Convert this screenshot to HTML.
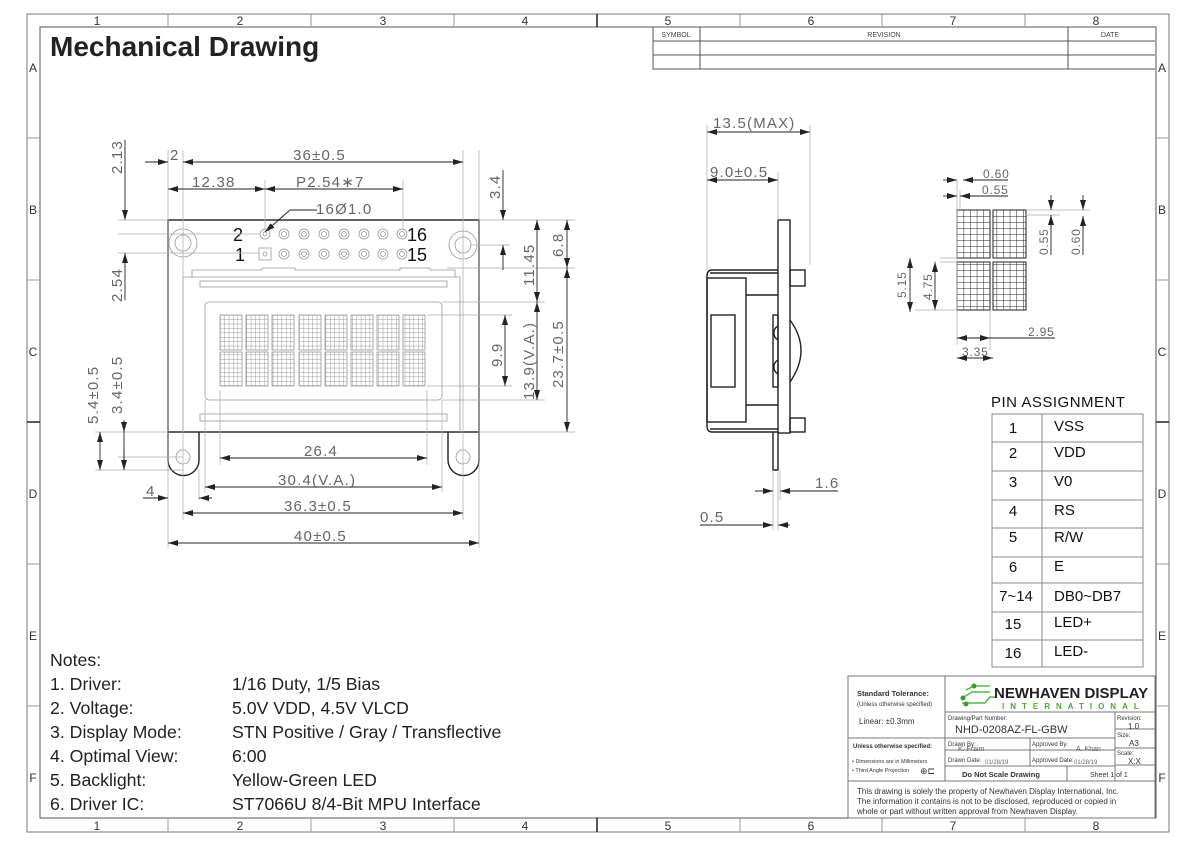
<!DOCTYPE html>
<html><head><meta charset="utf-8"><style>
html,body{margin:0;padding:0;background:#fff;}
svg{display:block;font-family:"Liberation Sans",sans-serif;}
.t{stroke:#444;stroke-width:1;fill:none}
.g{stroke:#999;stroke-width:0.8;fill:none}
.k{stroke:#222;stroke-width:1.4;fill:none}
.d{fill:#666;font-size:15px;letter-spacing:1.2px}
</style></head><body>
<svg width="1200" height="848" viewBox="0 0 1200 848" xmlns="http://www.w3.org/2000/svg">
<defs>
<pattern id="cg" x="220" y="315" width="4.4" height="4.4" patternUnits="userSpaceOnUse"><path d="M0 0H4.4M0 0V4.4" stroke="#777" stroke-width="0.7"/></pattern>
<pattern id="cg2" x="957" y="210" width="6.6" height="6" patternUnits="userSpaceOnUse"><path d="M0 0H6.6M0 0V6" stroke="#222" stroke-width="1"/></pattern>
<marker id="a" viewBox="0 0 10 6" refX="10" refY="3" markerWidth="10" markerHeight="6" orient="auto-start-reverse" markerUnits="userSpaceOnUse"><path d="M0 0L10 3L0 6z" fill="#222"/></marker>
</defs>
<rect x="27" y="14" width="1142" height="818" fill="none" stroke="#777"/>
<rect x="40" y="27" width="1116" height="791" fill="none" stroke="#555"/>
<g stroke="#999">
<path d="M168 14V27M311 14V27M454 14V27M740 14V27M882 14V27M1025 14V27M168 818V832M311 818V832M454 818V832M740 818V832M882 818V832M1025 818V832"/>
<path d="M27 138H40M27 280H40M27 564H40M27 706H40M1156 138H1169M1156 280H1169M1156 564H1169M1156 706H1169"/>
</g>
<path d="M597 14V27M597 818V832M27 422H40M1156 422H1169" stroke="#222" stroke-width="1.5"/>
<g font-size="12" fill="#333" text-anchor="middle">
<text x="97" y="25">1</text><text x="240" y="25">2</text><text x="383" y="25">3</text><text x="525" y="25">4</text><text x="668" y="25">5</text><text x="811" y="25">6</text><text x="953" y="25">7</text><text x="1096" y="25">8</text>
<text x="97" y="830">1</text><text x="240" y="830">2</text><text x="383" y="830">3</text><text x="525" y="830">4</text><text x="668" y="830">5</text><text x="811" y="830">6</text><text x="953" y="830">7</text><text x="1096" y="830">8</text>
<text x="33" y="72">A</text><text x="33" y="214">B</text><text x="33" y="356">C</text><text x="33" y="498">D</text><text x="33" y="640">E</text><text x="33" y="782">F</text>
<text x="1162" y="72">A</text><text x="1162" y="214">B</text><text x="1162" y="356">C</text><text x="1162" y="498">D</text><text x="1162" y="640">E</text><text x="1162" y="782">F</text>
</g>
<text x="50" y="56" font-size="28" font-weight="bold" fill="#222">Mechanical Drawing</text>
<g stroke="#555" fill="none"><path d="M653 27V69H1155M653 41H1155M653 55H1155M700 27V69M1068 27V69"/></g>
<g font-size="7" fill="#444" text-anchor="middle"><text x="676" y="37">SYMBOL</text><text x="884" y="37">REVISION</text><text x="1110" y="37">DATE</text></g>

<rect x="168" y="220" width="311" height="212" class="k"/>
<g class="g">
<circle cx="183" cy="243" r="14"/><circle cx="183" cy="243" r="8"/>
<circle cx="463" cy="245" r="14"/><circle cx="463" cy="245" r="8"/>
<path d="M192 277V270H262V268H295V270H400V268H430V270H455V277"/>
<path d="M183 432V277H460V432"/>
<rect x="200" y="281" width="247" height="6"/>
<rect x="200" y="414" width="247" height="7"/>
<rect x="205" y="302" width="237" height="98" rx="4"/>
<rect x="259" y="248" width="12" height="12"/>
</g>
<g class="g">
<circle cx="265" cy="234" r="5"/><circle cx="265" cy="234" r="2"/>
<circle cx="265" cy="254" r="2"/>
<circle cx="284" cy="234" r="5"/><circle cx="284" cy="234" r="2.5"/><circle cx="284" cy="254" r="5"/><circle cx="284" cy="254" r="2.5"/>
<circle cx="304" cy="234" r="5"/><circle cx="304" cy="234" r="2.5"/><circle cx="304" cy="254" r="5"/><circle cx="304" cy="254" r="2.5"/>
<circle cx="324" cy="234" r="5"/><circle cx="324" cy="234" r="2.5"/><circle cx="324" cy="254" r="5"/><circle cx="324" cy="254" r="2.5"/>
<circle cx="344" cy="234" r="5"/><circle cx="344" cy="234" r="2.5"/><circle cx="344" cy="254" r="5"/><circle cx="344" cy="254" r="2.5"/>
<circle cx="364" cy="234" r="5"/><circle cx="364" cy="234" r="2.5"/><circle cx="364" cy="254" r="5"/><circle cx="364" cy="254" r="2.5"/>
<circle cx="383" cy="234" r="5"/><circle cx="383" cy="234" r="2.5"/><circle cx="383" cy="254" r="5"/><circle cx="383" cy="254" r="2.5"/>
<circle cx="402" cy="234" r="5"/><circle cx="402" cy="234" r="2.5"/><circle cx="402" cy="254" r="5"/><circle cx="402" cy="254" r="2.5"/>
</g>
<g font-size="18" fill="#111"><text x="233" y="241">2</text><text x="235" y="261">1</text><text x="407" y="241">16</text><text x="407" y="261">15</text></g>
<g fill="url(#cg)" stroke="#888" stroke-width="0.7">
<rect x="220" y="315" width="22" height="35"/><rect x="246" y="315" width="22" height="35"/><rect x="272" y="315" width="22" height="35"/><rect x="299" y="315" width="22" height="35"/><rect x="325" y="315" width="22" height="35"/><rect x="351" y="315" width="22" height="35"/><rect x="377" y="315" width="22" height="35"/><rect x="403" y="315" width="22" height="35"/>
<rect x="220" y="352" width="22" height="34"/><rect x="246" y="352" width="22" height="34"/><rect x="272" y="352" width="22" height="34"/><rect x="299" y="352" width="22" height="34"/><rect x="325" y="352" width="22" height="34"/><rect x="351" y="352" width="22" height="34"/><rect x="377" y="352" width="22" height="34"/><rect x="403" y="352" width="22" height="34"/>
</g>
<g class="k" stroke-width="1.2">
<path d="M168 432V460A15 15 0 0 0 199 460V432"/>
<path d="M448 432V460A15 15 0 0 0 479 460V432"/>
</g>
<circle cx="183" cy="457" r="7" class="g"/><circle cx="463" cy="457" r="7" class="g"/>
<g stroke="#aaa" stroke-width="0.7" fill="none">
<path d="M168 150V548M183 150V520M479 150V548M463 150V520M265 180V230M403 180V230M220 390V465M427 390V465M205 400V492M442 400V492M199 470V500"/>
<path d="M118 220H168M118 234H260M118 253H260M480 220H575M470 245H510M447 268H575M442 302H545M427 315H512M427 386H512M442 400H545M479 432H575M95 432H168M95 470H183M118 457H183"/>
</g>
<g stroke="#222" stroke-width="0.9" fill="none">
<path d="M183 162H463" marker-start="url(#a)" marker-end="url(#a)"/>
<path d="M145 162H168" marker-end="url(#a)"/>
<path d="M168 189H265" marker-start="url(#a)" marker-end="url(#a)"/>
<path d="M265 189H403" marker-start="url(#a)" marker-end="url(#a)"/>
<path d="M317 210H290L265 232" marker-end="url(#a)"/>
<path d="M220 458H427" marker-start="url(#a)" marker-end="url(#a)"/>
<path d="M205 487H442" marker-start="url(#a)" marker-end="url(#a)"/>
<path d="M183 513H463" marker-start="url(#a)" marker-end="url(#a)"/>
<path d="M168 543H479" marker-start="url(#a)" marker-end="url(#a)"/>
<path d="M143 498H168" marker-end="url(#a)"/><path d="M199 498H212"/><path d="M212 498H199" marker-end="url(#a)"/>
<path d="M125 140V220" marker-end="url(#a)"/>
<path d="M125 265V253" marker-end="url(#a)"/><path d="M125 265V300"/>
<path d="M124 432V470"/><path d="M124 450V470" marker-end="url(#a)"/><path d="M124 420V432" marker-end="url(#a)"/>
<path d="M100 432V470" marker-start="url(#a)" marker-end="url(#a)"/>
<path d="M503 170V220" marker-end="url(#a)"/><path d="M503 270V245" marker-end="url(#a)"/>
<path d="M537 220V302" marker-start="url(#a)" marker-end="url(#a)"/>
<path d="M537 302V400" marker-start="url(#a)" marker-end="url(#a)"/>
<path d="M505 315V386" marker-start="url(#a)" marker-end="url(#a)"/>
<path d="M567 220V268" marker-start="url(#a)" marker-end="url(#a)"/>
<path d="M567 268V432" marker-start="url(#a)" marker-end="url(#a)"/>
</g>
<g class="d">
<text x="293" y="160">36±0.5</text>
<text x="170" y="160">2</text>
<text x="192" y="187">12.38</text>
<text x="296" y="187">P2.54∗7</text>
<text x="316" y="214">16Ø1.0</text>
<text x="304" y="456">26.4</text>
<text x="278" y="485">30.4(V.A.)</text>
<text x="284" y="511">36.3±0.5</text>
<text x="294" y="541">40±0.5</text>
<text x="146" y="496">4</text>
<text transform="translate(122 174) rotate(-90)">2.13</text>
<text transform="translate(122 302) rotate(-90)">2.54</text>
<text transform="translate(122 414) rotate(-90)">3.4±0.5</text>
<text transform="translate(98 424) rotate(-90)">5.4±0.5</text>
<text transform="translate(500 199) rotate(-90)">3.4</text>
<text transform="translate(534 286) rotate(-90)">11.45</text>
<text transform="translate(563 257) rotate(-90)">6.8</text>
<text transform="translate(534 400) rotate(-90)">13.9(V.A.)</text>
<text transform="translate(502 367) rotate(-90)">9.9</text>
<text transform="translate(563 388) rotate(-90)">23.7±0.5</text>
</g>

<g class="k" stroke-width="1.1">
<rect x="778" y="220" width="12" height="213"/>
<path d="M778 270H712Q707 270 707 276V426Q707 432 712 432H778"/>
<path d="M710 273H778M710 429H778"/>
<rect x="707" y="278" width="39" height="144"/>
<rect x="711" y="315" width="24" height="72"/>
<path d="M746 295H778M746 405H778"/>
<rect x="773" y="315" width="5" height="72"/>
<path d="M778 326A8 8 0 0 0 778 340M778 360A8 8 0 0 0 778 374"/>
<path d="M790 320Q812 350 790 382"/>
<rect x="790" y="270" width="15" height="16"/>
<rect x="790" y="418" width="15" height="14"/>
<path d="M773 432V470H778V432"/>
</g>
<g stroke="#aaa" stroke-width="0.7"><path d="M707 125V270M810 125V265M778 172V220M773 470V530M778 470V530M780 470V500"/></g>
<g stroke="#222" stroke-width="0.9" fill="none">
<path d="M707 132H810" marker-start="url(#a)" marker-end="url(#a)"/>
<path d="M707 180H778" marker-start="url(#a)" marker-end="url(#a)"/>
<path d="M755 491H773" marker-end="url(#a)"/><path d="M838 491H780" marker-end="url(#a)"/>
<path d="M700 525H762"/><path d="M762 525H773" marker-end="url(#a)"/><path d="M790 525H778" marker-end="url(#a)"/>
</g>
<g class="d"><text x="713" y="128">13.5(MAX)</text><text x="710" y="177">9.0±0.5</text><text x="815" y="488">1.6</text><text x="700" y="522">0.5</text></g>

<g fill="url(#cg2)" stroke="#222" stroke-width="1">
<rect x="957" y="210" width="33" height="48"/><rect x="993" y="210" width="33" height="48"/>
<rect x="957" y="262" width="33" height="48"/><rect x="993" y="262" width="33" height="48"/>
</g>
<g stroke="#aaa" stroke-width="0.7"><path d="M957 180V345M960 190V210M990 310V350M1026 210H1090M1026 215H1060M940 258H957M915 310H957M940 262H957"/></g>
<g stroke="#222" stroke-width="0.9" fill="none">
<path d="M943 180H957" marker-end="url(#a)"/><path d="M975 180H963" marker-end="url(#a)"/><path d="M963 180H1008"/>
<path d="M943 196H957" marker-end="url(#a)"/><path d="M975 196H960" marker-end="url(#a)"/><path d="M960 196H1008"/>
<path d="M1051 195V210" marker-end="url(#a)"/><path d="M1051 230V215" marker-end="url(#a)"/><path d="M1051 215V255"/>
<path d="M1083 195V210" marker-end="url(#a)"/><path d="M1083 230V216" marker-end="url(#a)"/><path d="M1083 216V255"/>
<path d="M935 262V310" marker-start="url(#a)" marker-end="url(#a)"/>
<path d="M910 258V312" marker-start="url(#a)" marker-end="url(#a)"/>
<path d="M957 338H990" marker-start="url(#a)" marker-end="url(#a)"/><path d="M990 338H1055"/>
<path d="M957 358H993" marker-start="url(#a)" marker-end="url(#a)"/>
</g>
<g fill="#666" font-size="12" letter-spacing="0.8">
<text x="983" y="178">0.60</text><text x="982" y="194">0.55</text>
<text transform="translate(1048 255) rotate(-90)">0.55</text>
<text transform="translate(1080 255) rotate(-90)">0.60</text>
<text transform="translate(932 300) rotate(-90)">4.75</text>
<text transform="translate(906 298) rotate(-90)">5.15</text>
<text x="1028" y="336">2.95</text><text x="962" y="356">3.35</text>
</g>

<text x="991" y="407" font-size="15" fill="#111" letter-spacing="0.5">PIN ASSIGNMENT</text>
<g stroke="#888" fill="none">
<rect x="992" y="414" width="151" height="253"/>
<path d="M1042 414V667M992 442H1143M992 471H1143M992 500H1143M992 528H1143M992 557H1143M992 583H1143M992 612H1143M992 640H1143"/>
</g>
<g font-size="15" fill="#111">
<g text-anchor="middle"><text x="1013" y="433">1</text><text x="1013" y="458">2</text><text x="1013" y="487">3</text><text x="1013" y="516">4</text><text x="1013" y="542">5</text><text x="1013" y="572">6</text><text x="1016" y="601">7~14</text><text x="1013" y="629">15</text><text x="1013" y="658">16</text></g>
<text x="1054" y="431">VSS</text><text x="1054" y="457">VDD</text><text x="1054" y="486">V0</text><text x="1054" y="515">RS</text><text x="1054" y="542">R/W</text><text x="1054" y="571">E</text><text x="1054" y="601">DB0~DB7</text><text x="1054" y="627">LED+</text><text x="1054" y="656">LED-</text>
</g>

<g font-size="17.7" fill="#222">
<text x="50" y="666">Notes:</text>
<text x="50" y="690">1. Driver:</text><text x="232" y="690">1/16 Duty, 1/5 Bias</text>
<text x="50" y="714">2. Voltage:</text><text x="232" y="714">5.0V VDD, 4.5V VLCD</text>
<text x="50" y="738">3. Display Mode:</text><text x="232" y="738">STN Positive / Gray / Transflective</text>
<text x="50" y="762">4. Optimal View:</text><text x="232" y="762">6:00</text>
<text x="50" y="786">5. Backlight:</text><text x="232" y="786">Yellow-Green LED</text>
<text x="50" y="810">6. Driver IC:</text><text x="232" y="810">ST7066U 8/4-Bit MPU Interface</text>
</g>

<g stroke="#777" fill="none">
<rect x="848" y="676" width="307" height="142"/>
<path d="M945 676V781M848 738H945M848 781H1155M945 712H1155M945 750H1115M945 766H1115M1115 712V781M1115 729H1155M1115 748H1155M1115 765H1155M1030 738V766M1067 766V781M945 738H1115"/>
</g>
<g>
<path d="M962 698L972 692H990M962 703H985L990 697H995M966 690L974 686H990" stroke="#5cb848" stroke-width="1.6" fill="none"/>
<circle cx="963" cy="698" r="2.5" fill="#3a9a2a"/><circle cx="966" cy="704" r="2.5" fill="#3a9a2a"/><circle cx="974" cy="686" r="2.5" fill="#3a9a2a"/>
<text x="994" y="698" font-size="15" font-weight="bold" fill="#222">NEWHAVEN DISPLAY</text>
<text x="1002" y="709" font-size="8" font-weight="bold" fill="#4aa832" letter-spacing="6">INTERNATIONAL</text>
</g>
<g fill="#333">
<text x="857" y="696" font-size="7.5" font-weight="bold">Standard Tolerance:</text>
<text x="857" y="706" font-size="6">(Unless otherwise specified)</text>
<text x="859" y="724" font-size="8">Linear:   ±0.3mm</text>
<text x="853" y="748" font-size="6" font-weight="bold">Unless otherwise specified:</text>
<text x="852" y="763" font-size="5.5">• Dimensions are in Millimeters</text>
<text x="852" y="772" font-size="5.5">• Third Angle Projection</text>
<text x="920" y="774" font-size="9">⊕⊏</text>
<text x="948" y="720" font-size="6">Drawing/Part Number:</text>
<text x="955" y="733" font-size="11">NHD-0208AZ-FL-GBW</text>
<text x="1117" y="720" font-size="6">Revision:</text><text x="1128" y="729" font-size="8">1.0</text>
<text x="1117" y="737" font-size="6">Size:</text><text x="1129" y="746" font-size="8">A3</text>
<text x="1117" y="755" font-size="6">Scale:</text><text x="1128" y="764" font-size="8">X:X</text>
<text x="948" y="746" font-size="6">Drawn By:</text><text x="958" y="751" font-size="7" fill="#666">K. Fraim</text>
<text x="1032" y="746" font-size="6">Approved By:</text><text x="1076" y="751" font-size="7" fill="#666">A. Khan</text>
<text x="948" y="762" font-size="6">Drawn Date:</text><text x="985" y="764" font-size="6" fill="#666">01/28/19</text>
<text x="1032" y="762" font-size="6">Approved Date:</text><text x="1074" y="764" font-size="6" fill="#666">01/28/19</text>
<text x="962" y="777" font-size="7.5" font-weight="bold">Do Not Scale Drawing</text>
<text x="1090" y="777" font-size="7">Sheet 1 of 1</text>
<text x="857" y="794" font-size="8">This drawing is solely the property of Newhaven Display International, Inc.</text>
<text x="857" y="804" font-size="8">The information it contains is not to be disclosed, reproduced or copied in</text>
<text x="857" y="814" font-size="8">whole or part without written approval from Newhaven Display.</text>
</g>
</svg>
</body></html>
